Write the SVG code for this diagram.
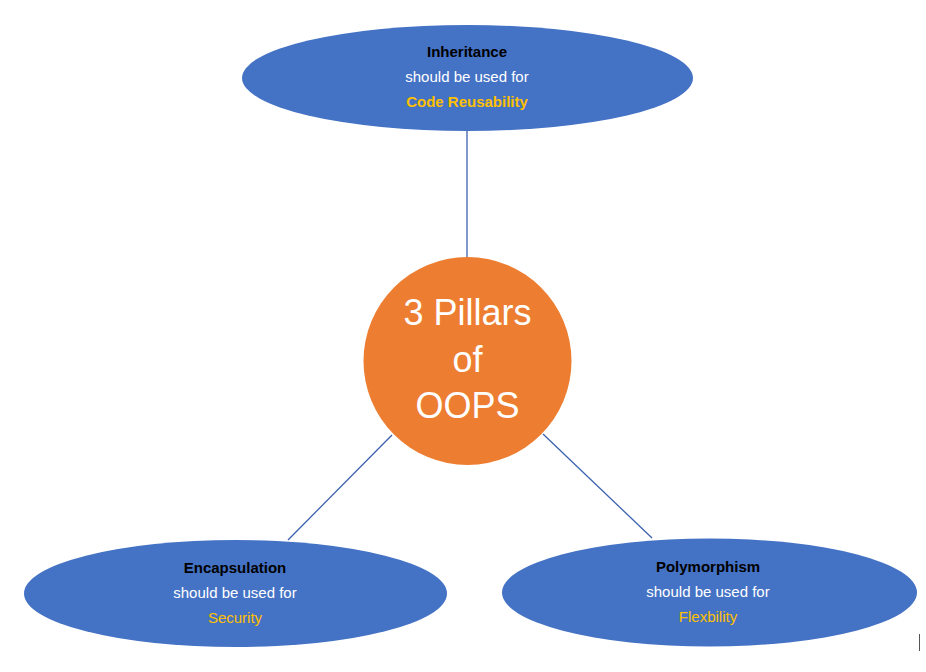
<svg xmlns="http://www.w3.org/2000/svg" width="926" height="672" viewBox="0 0 926 672">
<style>
.blue{fill:#4472C4;}
.orange{fill:#ED7D31;}
.t{font-family:"Liberation Sans",Arial,sans-serif;font-size:15px;text-anchor:middle;}
.title{font-weight:bold;fill:#000000;}
.sub{fill:#FFFFFF;}
.hl{fill:#FFC000;}
.big{font-family:"Liberation Sans",Arial,sans-serif;font-size:36px;text-anchor:middle;fill:#FFFFFF;}
.conn{stroke:#3B62AE;stroke-width:1.3;fill:none;}
</style>
<rect width="926" height="672" fill="#FFFFFF"/>
<g id="connectors">
<line class="conn" x1="467" y1="131" x2="467" y2="257"/>
<line class="conn" x1="392" y1="435" x2="288" y2="540"/>
<line class="conn" x1="543" y1="434" x2="652" y2="538"/>
</g>
<g id="inheritance">
<ellipse class="blue" cx="467.5" cy="78" rx="225.5" ry="53"/>
<text class="t title" x="467" y="57">Inheritance</text>
<text class="t sub" x="467" y="82">should be used for</text>
<text class="t hl" x="467" y="107" font-weight="bold">Code Reusability</text>
</g>
<g id="center">
<circle class="orange" cx="467.5" cy="361" r="104"/>
<text class="big" x="467.5" y="325">3 Pillars</text>
<text class="big" x="467.5" y="372">of</text>
<text class="big" x="467.5" y="418">OOPS</text>
</g>
<g id="encapsulation">
<ellipse class="blue" cx="235.5" cy="593.5" rx="211.5" ry="53.5"/>
<text class="t title" x="235" y="573">Encapsulation</text>
<text class="t sub" x="235" y="598">should be used for</text>
<text class="t hl" x="235" y="623">Security</text>
</g>
<g id="polymorphism">
<ellipse class="blue" cx="709.5" cy="592.5" rx="207.5" ry="54"/>
<text class="t title" x="708" y="572">Polymorphism</text>
<text class="t sub" x="708" y="597">should be used for</text>
<text class="t hl" x="708" y="622">Flexbility</text>
</g>
<line x1="919.5" y1="634" x2="919.5" y2="651" stroke="#555555" stroke-width="1"/>
</svg>
